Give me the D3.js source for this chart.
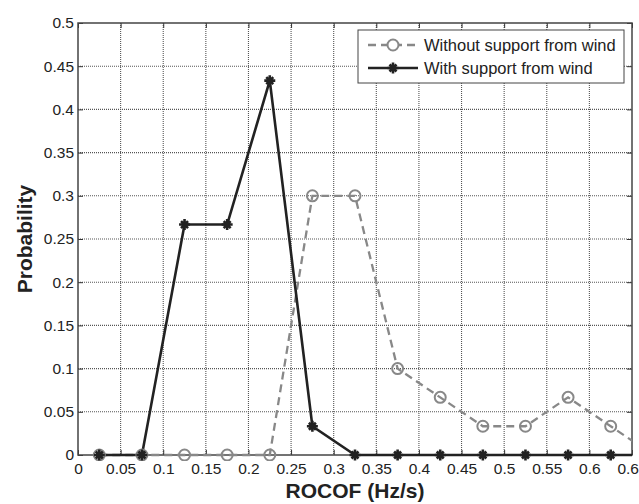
<!DOCTYPE html>
<html>
<head>
<meta charset="utf-8">
<script src="https://cdn.jsdelivr.net/npm/d3@7/dist/d3.min.js"></script>
<style>
  body { margin: 0; background: #fff; }
  svg { display: block; font-family: "Liberation Sans", Arial, sans-serif; }
</style>
</head>
<body>
<div id="chart"></div>
<script>
// bin centres (Hz/s)
var rocof = [0.025, 0.075, 0.125, 0.175, 0.225, 0.275, 0.325, 0.375, 0.425, 0.475, 0.525, 0.575, 0.625, 0.675];
var withoutWind = [0, 0, 0, 0, 0, 0.3, 0.3, 0.1, 0.0667, 0.0333, 0.0333, 0.0667, 0.0333, 0];
var withWind = [0, 0, 0.2667, 0.2667, 0.4333, 0.0333, 0, 0, 0, 0, 0, 0, 0, 0];
var xTicks = [0, 0.05, 0.1, 0.15, 0.2, 0.25, 0.3, 0.35, 0.4, 0.45, 0.5, 0.55, 0.6, 0.65];
var yTicks = [0, 0.05, 0.1, 0.15, 0.2, 0.25, 0.3, 0.35, 0.4, 0.45, 0.5];
var seriesNames = ["Without support from wind", "With support from wind"];

var width = 639, height = 504,
    margin = {top: 23, right: 7, bottom: 49, left: 78};
var w = width - margin.left - margin.right,
    h = height - margin.top - margin.bottom;

var svg = d3.select("#chart").append("svg")
    .attr("width", width).attr("height", height);

var g = svg.append("g").attr("transform", "translate(" + margin.left + "," + margin.top + ")");

var x = d3.scaleLinear().domain([0, 0.65]).range([0, w]);
var y = d3.scaleLinear().domain([0, 0.5]).range([h, 0]);

svg.append("defs").append("clipPath").attr("id", "clip")
  .append("rect").attr("x", 0).attr("y", -6).attr("width", w).attr("height", h + 12);

// grid
g.append("g").selectAll("line").data(xTicks.slice(1, -1)).enter().append("line")
    .attr("x1", d => x(d)).attr("x2", d => x(d)).attr("y1", 0).attr("y2", h)
    .attr("stroke", "#555").attr("stroke-width", 1.1).attr("stroke-dasharray", "1,1");
g.append("g").selectAll("line").data(yTicks.slice(1, -1)).enter().append("line")
    .attr("y1", d => y(d)).attr("y2", d => y(d)).attr("x1", 0).attr("x2", w)
    .attr("stroke", "#555").attr("stroke-width", 1.1).attr("stroke-dasharray", "1,1");

// axes
var xAxis = g.append("g").attr("transform", "translate(0," + h + ")")
    .call(d3.axisBottom(x).tickValues(xTicks).tickSizeInner(-5).tickSizeOuter(0).tickPadding(8).tickFormat(d3.format("")));
var yAxis = g.append("g")
    .call(d3.axisLeft(y).tickValues(yTicks).tickSizeInner(-5).tickSizeOuter(0).tickPadding(4).tickFormat(d3.format("")));
g.append("g").call(d3.axisTop(x).tickValues(xTicks).tickSizeInner(-5).tickSizeOuter(0).tickFormat(""));
g.append("g").attr("transform", "translate(" + w + ",0)")
    .call(d3.axisRight(y).tickValues(yTicks).tickSizeInner(-5).tickSizeOuter(0).tickFormat(""));
g.selectAll(".domain").remove();
g.selectAll(".tick line").attr("stroke", "#333");
[xAxis, yAxis].forEach(a => a.selectAll("text").attr("font-size", 15.5).attr("fill", "#222"));

g.append("rect").attr("width", w).attr("height", h)
    .attr("fill", "none").attr("stroke", "#444").attr("stroke-width", 1.5);

// series
var plot = g.append("g").attr("clip-path", "url(#clip)");
var line = d3.line().x((d, i) => x(rocof[i])).y(d => y(d));

plot.append("path").datum(withoutWind).attr("d", line)
    .attr("fill", "none").attr("stroke", "#888").attr("stroke-width", 2.3).attr("stroke-dasharray", "8,5");
plot.append("path").datum(withWind).attr("d", line)
    .attr("fill", "none").attr("stroke", "#222").attr("stroke-width", 2.6);

var star = "M-5.5,0L5.5,0M0,-5.5L0,5.5M-3.5,-3.5L3.5,3.5M-3.5,3.5L3.5,-3.5";

plot.selectAll(".c").data(withoutWind).enter().append("circle")
    .attr("cx", (d, i) => x(rocof[i])).attr("cy", d => y(d)).attr("r", 5.5)
    .attr("fill", "none").attr("stroke", "#888").attr("stroke-width", 2);
plot.selectAll(".s").data(withWind).enter().append("path")
    .attr("transform", (d, i) => "translate(" + x(rocof[i]) + "," + y(d) + ")")
    .attr("d", star).attr("stroke", "#222").attr("stroke-width", 2.6);

// legend
var lg = g.append("g").attr("transform", "translate(" + (358 - margin.left) + "," + (30 - margin.top) + ")");
lg.append("rect").attr("width", 266).attr("height", 53)
    .attr("fill", "#fff").attr("stroke", "#444").attr("stroke-width", 1);
lg.append("line").attr("x1", 10).attr("x2", 60).attr("y1", 15).attr("y2", 15)
    .attr("stroke", "#888").attr("stroke-width", 2.3).attr("stroke-dasharray", "8,5");
lg.append("circle").attr("cx", 35).attr("cy", 15).attr("r", 5.5)
    .attr("fill", "#fff").attr("stroke", "#888").attr("stroke-width", 2);
lg.append("line").attr("x1", 10).attr("x2", 60).attr("y1", 38).attr("y2", 38)
    .attr("stroke", "#222").attr("stroke-width", 2.6);
lg.append("path").attr("transform", "translate(35,38)").attr("d", star)
    .attr("stroke", "#222").attr("stroke-width", 2.6);
lg.selectAll("text").data(seriesNames).enter().append("text")
    .attr("x", 66).attr("y", (d, i) => 21 + i * 23)
    .attr("font-size", 16.5).attr("fill", "#222").text(d => d);

// axis titles
svg.append("text").attr("x", margin.left + w / 2).attr("y", 498)
    .attr("text-anchor", "middle").attr("font-size", 21).attr("font-weight", "bold").attr("fill", "#222")
    .text("ROCOF (Hz/s)");
svg.append("text").attr("transform", "translate(32," + (margin.top + h / 2) + ") rotate(-90)")
    .attr("text-anchor", "middle").attr("font-size", 21).attr("font-weight", "bold").attr("fill", "#222")
    .text("Probability");
</script>
</body>
</html>
